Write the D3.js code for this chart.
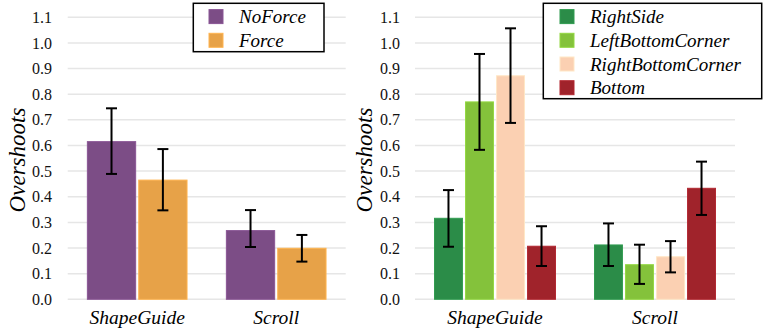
<!DOCTYPE html>
<html><head><meta charset="utf-8">
<script src="https://cdn.jsdelivr.net/npm/d3@7"></script>
</head><body style="margin:0;background:#fff">
<svg id="c" width="765" height="332" style="display:block"></svg>
<script>
const categories = ["ShapeGuide", "Scroll"];
const yTicks = [0,0.1,0.2,0.3,0.4,0.5,0.6,0.7,0.8,0.9,1.0,1.1];

const leftSeries = ["NoForce", "Force"];
const leftColors = ["#7c4d86", "#e7a248"];
const leftValues = [[0.615, 0.268], [0.465, 0.199]];
const leftLow = [[0.489, 0.204], [0.347, 0.147]];
const leftHigh = [[0.745, 0.348], [0.586, 0.251]];

const rightSeries = ["RightSide", "LeftBottomCorner", "RightBottomCorner", "Bottom"];
const rightColors = ["#2b8c48", "#84c23b", "#fbd0b2", "#a0232b"];
const rightValues = [[0.316, 0.212], [0.770, 0.135], [0.872, 0.166], [0.207, 0.433]];
const rightLow = [[0.205, 0.130], [0.583, 0.060], [0.688, 0.105], [0.130, 0.329]];
const rightHigh = [[0.426, 0.296], [0.957, 0.213], [1.057, 0.227], [0.285, 0.537]];

const FONT = '"Liberation Serif"';
const svg = d3.select("#c");

function chart(o) {
  const g = svg.append("g");
  const y = d3.scaleLinear().domain([0, 1.1]).range([299.3, 17.3]);
  const x0 = d3.scaleBand().domain(categories).range([o.x0, o.x1]).paddingInner(o.pad).paddingOuter(o.pad/2);
  const x1 = d3.scaleBand().domain(o.series).range([0, x0.bandwidth()]).paddingInner(o.inner);
  g.selectAll("line.grid").data(yTicks).join("line")
    .attr("x1", o.x0).attr("x2", o.x1)
    .attr("y1", d => y(d)).attr("y2", d => y(d))
    .attr("stroke", "#e6e6e6").attr("stroke-width", 1.5);
  g.selectAll("text.yt").data(yTicks).join("text")
    .attr("x", o.labelX).attr("y", d => y(d)).attr("dy", "0.35em")
    .attr("text-anchor", "end").attr("font-size", 16).attr("fill", "#111")
    .style("font-family", FONT)
    .text(d => d3.format(".1f")(d));
  g.append("text").attr("transform", `translate(${o.titleX},160) rotate(-90)`)
    .attr("text-anchor", "middle").attr("font-size", 23).attr("font-style", "italic")
    .style("font-family", FONT)
    .text("Overshoots");
  o.series.forEach((s, si) => {
    categories.forEach((c, ci) => {
      const bx = x0(c) + x1(s);
      const v = o.values[si][ci];
      g.append("rect").attr("x", bx).attr("y", y(v))
        .attr("width", x1.bandwidth()).attr("height", y(0) - y(v))
        .attr("fill", o.colors[si]).attr("stroke", d3.color(o.colors[si]).brighter(0.3)).attr("stroke-width", 1);
      const cx = bx + x1.bandwidth()/2;
      const lo = y(o.low[si][ci]), hi = y(o.high[si][ci]);
      g.append("line").attr("x1", cx).attr("x2", cx).attr("y1", lo).attr("y2", hi).attr("stroke", "#000").attr("stroke-width", 2);
      [lo, hi].forEach(yy => g.append("line").attr("x1", cx-5.5).attr("x2", cx+5.5).attr("y1", yy).attr("y2", yy).attr("stroke", "#000").attr("stroke-width", 2));
    });
  });
  g.selectAll("text.cat").data(categories).join("text")
    .attr("x", d => x0(d) + x0.bandwidth()/2).attr("y", 324)
    .attr("text-anchor", "middle").attr("font-size", 19.5).attr("font-style", "italic")
    .style("font-family", FONT)
    .text(d => d);
  const L = o.legend;
  g.append("rect").attr("x", L.x).attr("y", L.y).attr("width", L.w).attr("height", L.h)
    .attr("fill", "#fff").attr("stroke", "#000").attr("stroke-width", 1.5);
  o.series.forEach((s, i) => {
    const cy = L.y + 13.3 + i * 23.7;
    g.append("rect").attr("x", L.sx).attr("y", cy - 7).attr("width", 14).attr("height", 14)
      .attr("fill", o.colors[i]).attr("stroke", d3.color(o.colors[i]).brighter(0.3));
    g.append("text").attr("x", L.tx).attr("y", cy).attr("dy", "0.35em")
      .attr("font-size", 19).attr("font-style", "italic")
      .style("font-family", FONT).text(s);
  });
}

chart({x0: 67.7, x1: 345.7, pad: 0.283, inner: 0.06, series: leftSeries, colors: leftColors,
  values: leftValues, low: leftLow, high: leftHigh, labelX: 52, titleX: 25,
  legend: {x: 193.3, y: 3.3, w: 130.7, h: 48.4, sx: 209, tx: 239}});
chart({x0: 415, x1: 735, pad: 0.244, inner: 0.1, series: rightSeries, colors: rightColors,
  values: rightValues, low: rightLow, high: rightHigh, labelX: 400, titleX: 372,
  legend: {x: 543.3, y: 3.3, w: 218.4, h: 95.4, sx: 560, tx: 590}});
</script>
</body></html>
